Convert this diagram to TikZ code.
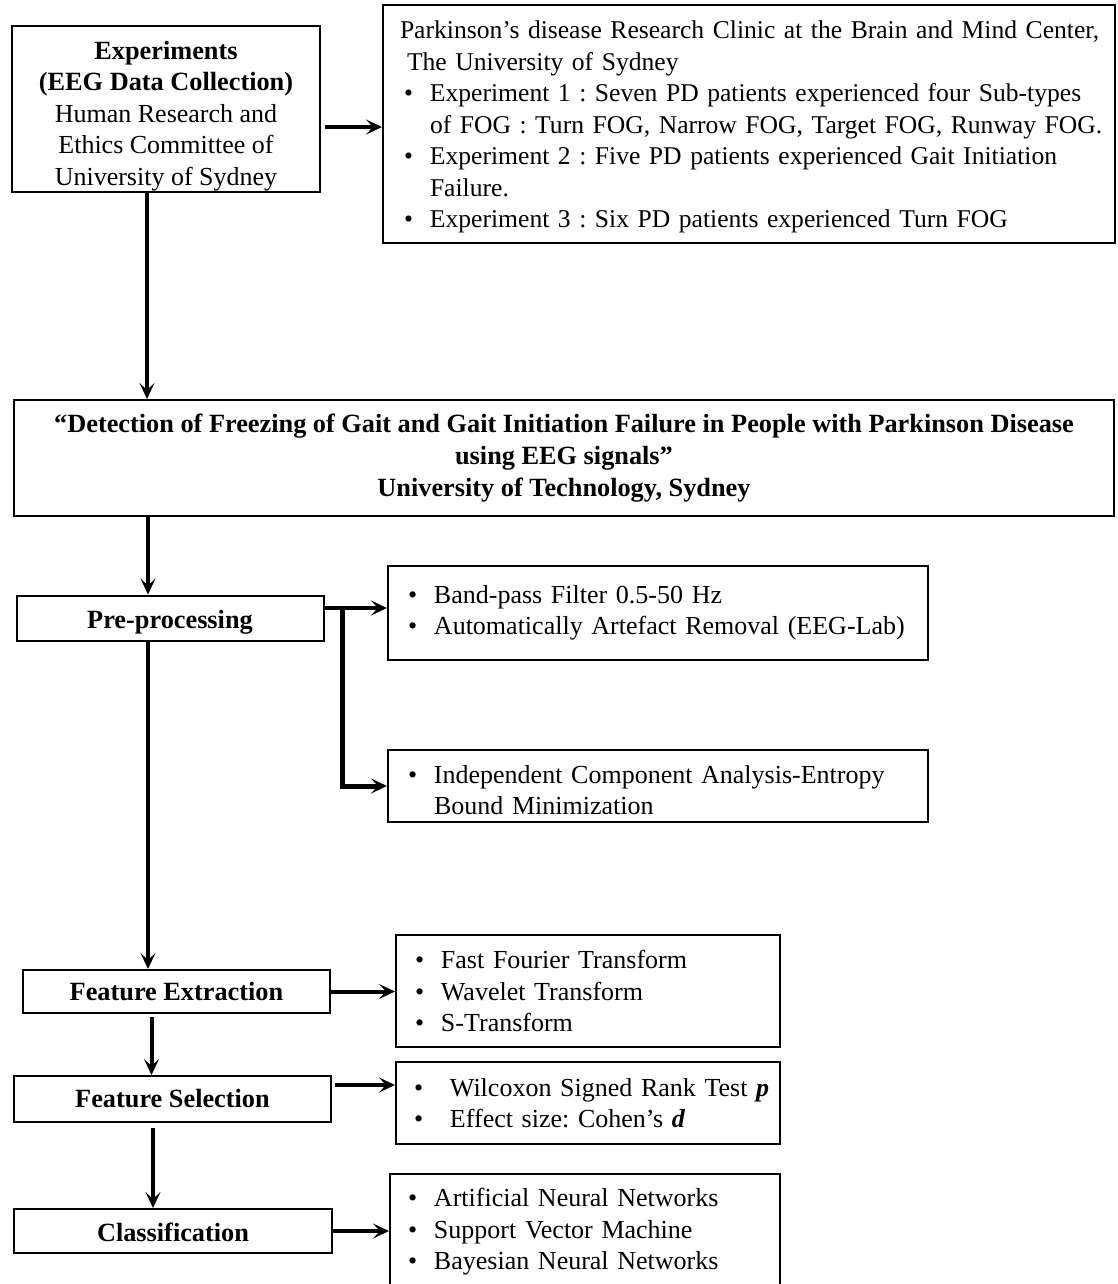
\documentclass[tikz,border=0pt]{standalone}
\usepackage{fontspec}
\setmainfont{Liberation Serif}
\usetikzlibrary{arrows.meta,calc}
\newcommand{\bt}{\makebox[26pt][l]{\textbullet}}
\newcommand{\bw}{\makebox[36pt][l]{\textbullet}}
\newcommand{\sh}[1]{\rule{0pt}{#1pt}}
\newcommand{\li}[1]{\mbox{#1}}
\begin{document}
\frenchspacing
\begin{tikzpicture}[x=1pt,y=-1pt,
  box/.style={draw,line width=2pt,rectangle,inner ysep=0pt,font=\fontsize{26}{31.5}\selectfont},
  lbox/.style={box,align=left},
  bbox/.style={box,font=\bfseries\fontsize{26.3}{31.5}\selectfont},
  arr/.style={line width=4pt,-{Stealth[length=16pt,width=15pt,inset=7pt]}}]
\useasboundingbox (0,0) rectangle (1117,1284);
\fill[white] (0,0) rectangle (1117,1284);
\node[box,align=center,minimum width=308pt,minimum height=166pt] (exp) at (166,109)
  {\sh{32}{\fontsize{26.3}{31.5}\selectfont\bfseries Experiments}\\{\fontsize{26.3}{31.5}\selectfont\bfseries(EEG Data Collection)}\\Human Research and\\Ethics Committee of\\University of Sydney};
\node[lbox,font=\fontsize{25.6}{31.5}\selectfont,inner xsep=21pt,text width=690pt,minimum height=238pt] (park) at (749,124)
  {\sh{24}\hspace*{-4pt}\li{Parkinson’s disease Research Clinic at the Brain and Mind Center,}\\
   \hspace*{3pt}\li{The University of Sydney}\\
   \bt\li{Experiment 1 : Seven PD patients experienced four Sub-types}\\
   \hspace*{26pt}\li{of FOG : Turn FOG, Narrow FOG, Target FOG, Runway FOG.}\\
   \bt\li{Experiment 2 : Five PD patients experienced Gait Initiation}\\
   \hspace*{26pt}\li{Failure.}\\
   \bt\li{Experiment 3 : Six PD patients experienced Turn FOG}};
\node[bbox,align=center,font=\bfseries\fontsize{26.3}{32}\selectfont,minimum width=1100pt,minimum height=116pt] (det) at (564,458)
  {“Detection of Freezing of Gait and Gait Initiation Failure in People with Parkinson Disease\\using EEG signals”\\University of Technology, Sydney};
\node[bbox,minimum width=307pt,minimum height=45pt] (pre) at (170,618) {\sh{26}Pre-processing};
\node[lbox,inner xsep=20pt,text width=500pt,minimum height=94pt] (bp) at (658,613)
  {\bt\li{Band-pass Filter 0.5-50 Hz}\\\bt\li{Automatically Artefact Removal (EEG-Lab)}};
\node[lbox,inner xsep=20pt,text width=500pt,minimum height=72pt] (ica) at (658,786)
  {\sh{26}\bt\li{Independent Component Analysis-Entropy}\\\hspace*{26pt}\li{Bound Minimization}};
\node[bbox,minimum width=307pt,minimum height=43pt] (fe) at (176.5,991.5) {Feature Extraction};
\node[lbox,inner xsep=19pt,text width=346pt,minimum height=112pt] (fft) at (588,991)
  {\bt\li{Fast Fourier Transform}\\\bt\li{Wavelet Transform}\\\bt\li{S-Transform}};
\node[bbox,minimum width=317pt,minimum height=46pt] (fs) at (172.5,1099) {Feature Selection};
\node[lbox,inner xsep=18pt,text width=348pt,minimum height=82pt] (wil) at (588,1103)
  {\bw\li{Wilcoxon Signed Rank Test \textit{\textbf{p}}}\\\bw\li{Effect size: Cohen{\char"0027}s \textit{\textbf{d}}}};
\node[bbox,minimum width=318pt,minimum height=44pt] (cls) at (173,1231) {\sh{22}Classification};
\node[lbox,inner xsep=18pt,text width=354pt,minimum height=116pt] (ann) at (585,1232)
  {\bt\li{Artificial Neural Networks}\\\bt\li{Support Vector Machine}\\\bt\li{Bayesian Neural Networks}};
% connectors
\draw[arr,shorten <=4pt] ([yshift=-3pt]exp.east |- park.west) -- ([yshift=-3pt]park.west);
\draw[arr] ([xshift=-19pt]exp.south) -- ([xshift=-19pt]exp.south |- det.north);
\draw[arr] ([xshift=-22pt]pre.north |- det.south) -- ([xshift=-22pt]pre.north);
\draw[arr] ([yshift=10pt]pre.east) -- ([yshift=10pt]pre.east -| bp.west);
\draw[line width=5pt,-{Stealth[length=16pt,width=15pt,inset=7pt]}] ([xshift=18pt,yshift=10pt]pre.east) -- ([xshift=18pt]pre.east |- ica.west) -- (ica.west);
\draw[arr] ([xshift=-22pt]pre.south) -- ([xshift=-22pt]pre.south |- fe.north);
\draw[arr] (fe.east) -- (fe.east -| fft.west);
\draw[arr,shorten <=3pt] ([xshift=-25pt]fe.south) -- ([xshift=-25pt]fe.south |- fs.north);
\draw[arr,shorten <=3pt] ([yshift=14pt]fs.east) -- ([yshift=14pt]fs.east -| wil.west);
\draw[arr,shorten <=5pt] ([xshift=-19.5pt]fs.south) -- ([xshift=-19.5pt]fs.south |- cls.north);
\draw[arr] (cls.east) -- (cls.east -| ann.west);
\end{tikzpicture}
\end{document}
